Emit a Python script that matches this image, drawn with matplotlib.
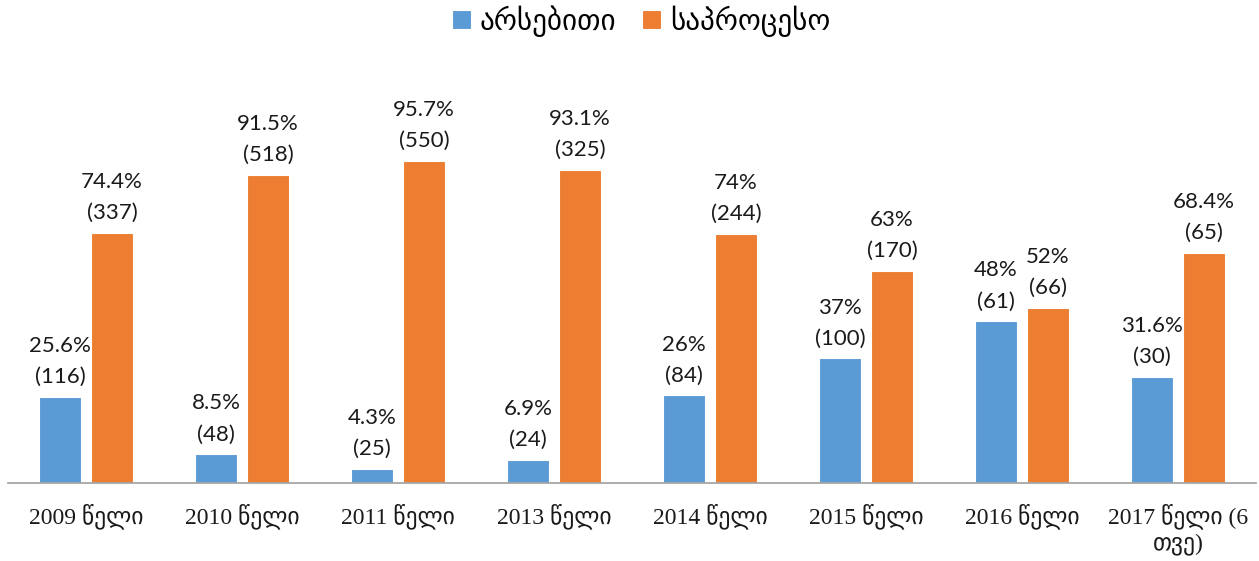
import matplotlib
matplotlib.use("Agg")
import matplotlib.pyplot as plt
import numpy as np

categories = ["2009 წელი", "2010 წელი", "2011 წელი", "2013 წელი", "2014 წელი",
              "2015 წელი", "2016 წელი", "2017 წელი (6\nთვე)"]
series_names = ["არსებითი", "საპროცესო"]
essential_pct = [25.6, 8.5, 4.3, 6.9, 26, 37, 48, 31.6]
essential_cnt = [116, 48, 25, 24, 84, 100, 61, 30]
process_pct = [74.4, 91.5, 95.7, 93.1, 74, 63, 52, 68.4]
process_cnt = [337, 518, 550, 325, 244, 170, 66, 65]

colors = ["#5B9BD5", "#ED7D31"]

W, H = 1259, 561
fig = plt.figure(figsize=(W / 100, H / 100), dpi=100)
ax = fig.add_axes([8 / W, 78 / H, (1256 - 8) / W, 404 / H])

x = np.arange(len(categories))
bw = 0.265
off = 0.167
b1 = ax.bar(x - off, essential_pct, bw, color=colors[0], edgecolor="white", linewidth=0.8, label=series_names[0])
b2 = ax.bar(x + off, process_pct, bw, color=colors[1], edgecolor="white", linewidth=0.8, label=series_names[1])

def fmt(v):
    return f"{v:g}%"

lab_font = dict(family=["Lato", "DejaVu Sans"], fontsize=16, color="#1a1a1a")
for bars, pcts, cnts in ((b1, essential_pct, essential_cnt), (b2, process_pct, process_cnt)):
    for rect, p, c in zip(bars, pcts, cnts):
        cx = rect.get_x() + rect.get_width() / 2
        ax.annotate(f"{fmt(p)}\n({c})", (cx, rect.get_height()), xytext=(0, 7),
                    textcoords="offset points", ha="center", va="bottom",
                    linespacing=1.7, **lab_font)

ax.set_xlim(-0.5, len(categories) - 0.5)
ax.set_ylim(0, 120)
ax.set_yticks([])
ax.set_xticks(x)
ax.set_xticklabels(categories, family=["Liberation Serif", "DejaVu Sans"], fontsize=17,
                   color="#1a1a1a", linespacing=1.2)
ax.tick_params(axis="x", length=0, pad=15)
for s in ["top", "right", "left"]:
    ax.spines[s].set_visible(False)
ax.spines["bottom"].set_color("#A6A6A6")
ax.spines["bottom"].set_linewidth(1.3)

leg = fig.legend(handles=[b1, b2], labels=series_names, loc="center", bbox_to_anchor=(641 / W, 1 - 21 / H),
                 ncol=2, frameon=False, prop=dict(family="DejaVu Sans", size=21),
                 handlelength=0.65, handleheight=0.65, handletextpad=0.3, columnspacing=0.9)

fig.savefig("out.png", dpi=100)
